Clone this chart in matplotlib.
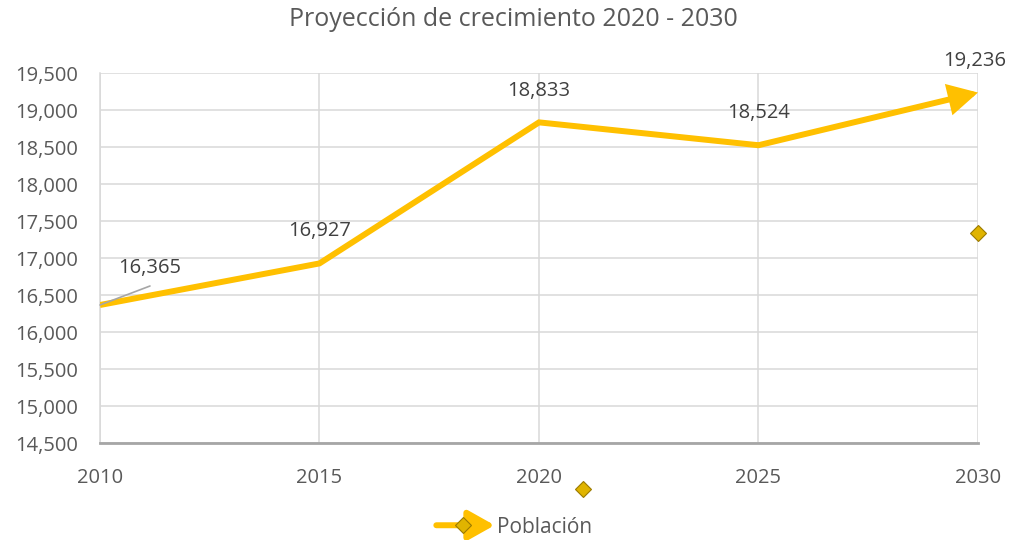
import matplotlib.pyplot as plt
from matplotlib.lines import Line2D
from matplotlib.patches import FancyArrowPatch
from matplotlib.legend_handler import HandlerBase

plt.rcParams['font.family'] = ['Open Sans', 'DejaVu Sans']

years = [2010, 2015, 2020, 2025, 2030]
poblacion = [16365, 16927, 18833, 18524, 19236]
labels = ['16,365', '16,927', '18,833', '18,524', '19,236']
# stray marker points visible in the original
extra_x = [2021, 2030]
extra_y = [13878, 17338]

gold = '#FFC000'
txt = '#404040'
grid = '#D9D9D9'

fig = plt.figure(figsize=(10.12, 5.4), dpi=100)
ax = fig.add_axes([0.0988, 0.1796, 0.8676, 0.6852])

ax.plot(years[:-1], poblacion[:-1], color=gold, lw=4.3,
        solid_joinstyle='miter', solid_capstyle='butt', zorder=3)
ax.annotate('', xy=(years[-1], poblacion[-1]),
            xytext=(years[-2], poblacion[-2]),
            arrowprops=dict(arrowstyle='-|>,head_length=1.5,head_width=0.8',
                            color=gold, lw=4.3, shrinkA=0, shrinkB=0,
                            joinstyle='miter'), zorder=3)

ax.plot(extra_x, extra_y, 'D', ms=8, mfc='#E0B400', mec='#9C7A00',
        mew=0.8, ls='none', clip_on=False, zorder=4)

# data labels
offs = [(50, 37), (0, 32), (0, 31), (0, 32), (-3, 32)]
for x, y, s, (dx, dy) in zip(years, poblacion, labels, offs):
    ax.annotate(s, xy=(x, y), xytext=(dx, dy), textcoords='offset pixels',
                ha='center', va='center', fontsize=14.5, color=txt)
ax.annotate('', xy=(years[0], poblacion[0]), xytext=(50, 19),
            textcoords='offset pixels',
            arrowprops=dict(arrowstyle='-', color='#A6A6A6', lw=1.2,
                            shrinkA=0, shrinkB=0))

ax.set_xlim(2010, 2030)
ax.set_ylim(14500, 19500)
ax.set_xticks(years)
ax.set_yticks(range(14500, 20000, 500))
ax.yaxis.set_major_formatter(plt.FuncFormatter(lambda v, p: f'{int(v):,}'))
ax.grid(True, color=grid, lw=1.1)
ax.set_axisbelow(True)
ax.tick_params(length=0, labelsize=14.5, labelcolor='#595959')
ax.tick_params(axis='x', pad=18)
ax.tick_params(axis='y', pad=16)
for sp in ['top', 'right']:
    ax.spines[sp].set_visible(False)
ax.spines['left'].set_color(grid)
ax.spines['left'].set_linewidth(1.1)
ax.spines['bottom'].set_color('#A6A6A6')
ax.spines['bottom'].set_linewidth(2)

fig.text(0.507, 0.963, 'Proyección de crecimiento 2020 - 2030',
         ha='center', va='center', fontsize=18, color='#595959')


class ArrowHandler(HandlerBase):
    def create_artists(self, legend, orig, xd, yd, w, h, fontsize, trans):
        y = h / 2 - yd
        arr = FancyArrowPatch((-xd, y), (-xd + w, y),
                              arrowstyle='-|>,head_length=1.6,head_width=0.9',
                              color=gold, lw=4.3, shrinkA=0, shrinkB=0,
                              transform=trans)
        arr.set_mutation_scale(10)
        mk = Line2D([-xd + w * 0.45], [y], marker='D', ms=8, mfc='#E0B400',
                    mec='#9C7A00', mew=0.8, ls='none', transform=trans)
        return [arr, mk]


h = Line2D([], [], color=gold)
fig.legend([h], ['Población'], handler_map={h: ArrowHandler()},
           loc='center', bbox_to_anchor=(0.508, 0.024), frameon=False,
           fontsize=15, labelcolor='#595959', handlelength=2.8,
           handletextpad=0.1)

plt.savefig('out.png', dpi=100)
